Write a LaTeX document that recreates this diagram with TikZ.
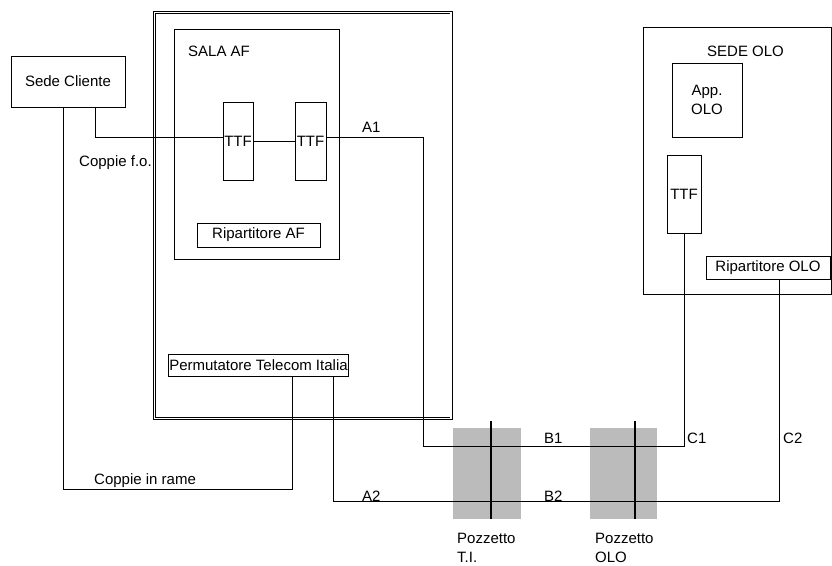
\documentclass[tikz,border=0pt]{standalone}
\usepackage{fontspec}
\setmainfont{Liberation Sans}
\usetikzlibrary{positioning, calc}
\definecolor{pozzgray}{RGB}{187,187,187}
\newcommand{\testo}{\fontsize{15}{19.5}\selectfont}
\tikzset{
    blocco/.style={
        draw, line width=0.7pt, inner sep=1pt, font=\testo
    },
    ttfnode/.style={
        blocco, minimum width=30pt, minimum height=78pt
    },
    ripnode/.style={
        blocco, minimum height=23pt
    },
    cavo/.style={
        line width=0.7pt
    },
    etichetta/.style={
        font=\testo, inner sep=0pt, anchor=base west
    },
    pozzetto/.style={
        fill=pozzgray, minimum width=68pt, minimum height=91pt, inner sep=0pt
    },
    asse/.style={
        line width=1.3pt
    }
}

\begin{document}
\begin{tikzpicture}[x=1pt, y=-1pt]

        \useasboundingbox (0,0) rectangle (832,565);

        % Sede cliente ed edificio AF
        \node[blocco, minimum width=114pt, minimum height=51pt] (cliente) at (68,81.5) {Sede Cliente};
        \node[draw, double, double distance=1.8pt, line width=0.6pt,
              minimum width=296.5pt, minimum height=406pt, inner sep=0pt] (edificio) at (302.75,215.5) {};
        \node[blocco, minimum width=165pt, minimum height=230pt] (sala) at (256.5,144) {};
        \node[etichetta] (salalbl) at (188,56.7) {SALA AF};
        \node[ttfnode] (ttfa) at (238,141) {TTF};
        \node[ttfnode, minimum width=31pt] (ttfb) at (310.5,141) {TTF};
        \node[ripnode, minimum width=123pt, minimum height=24pt] (ripaf) at (258.5,235) {Ripartitore AF};
        \node[blocco, minimum width=177pt, minimum height=22pt] (perm) at (258.5,365) {Permutatore Telecom Italia};

        % Sede OLO
        \node[blocco, minimum width=188.5pt, minimum height=267pt] (sedeolo) at (737.25,160.5) {};
        \node[etichetta] (sedelbl) at (707,56.7) {SEDE OLO};
        \node[blocco, minimum width=70pt, minimum height=74pt, align=center] (appolo) at (707,100) {App.\\OLO};
        \node[ttfnode, minimum width=34pt] (ttfolo) at (684,194) {TTF};
        \node[ripnode, minimum width=124pt] (ripolo) at (768,267.5) {Ripartitore OLO};

        % Pozzetti
        \node[pozzetto] (pozti) at (487,473.5) {};
        \node[pozzetto, minimum width=67pt] (pozolo) at (623.5,473.5) {};
        \node[etichetta, align=left] (poztilbl) at (457,562.7) {Pozzetto\\T.I.};
        \node[etichetta, align=left] (pozololbl) at (595,562.7) {Pozzetto\\OLO};

        % Collegamenti
        \coordinate (bunoa) at (423,446);
        \coordinate (ramea) at (63,489);
        \coordinate (aduea) at (333,501);
        \draw[cavo] ([xshift=27pt]cliente.south) |- ([yshift=4pt]ttfa.west);
        \draw[cavo] (ttfa.east) -- (ttfb.west);
        \draw[cavo] ([yshift=4pt]ttfb.east) -| (bunoa) -| (ttfolo.south);
        \draw[cavo] ([xshift=-5pt]cliente.south) -- (ramea) -| ([xshift=33.5pt]perm.south);
        \draw[cavo] ([xshift=74.5pt]perm.south) -- (aduea) -| ([xshift=11pt]ripolo.south);
        \draw[asse] ([xshift=4pt]pozti.south) -- ([xshift=4pt, yshift=7pt]pozti.north);
        \draw[asse] ([xshift=11.5pt]pozolo.south) -- ([xshift=11.5pt, yshift=7pt]pozolo.north);

        % Etichette delle tratte
        \node[etichetta] (fo) at (79,166) {Coppie f.o.};
        \node[etichetta] (rame) at (94,484.3) {Coppie in rame};
        \node[etichetta] (auno) at (362,132) {A1};
        \node[etichetta] (adue) at (362,501) {A2};
        \node[etichetta] (buno) at (544,443.3) {B1};
        \node[etichetta] (bdue) at (544,501.7) {B2};
        \node[etichetta] (cuno) at (687,443.3) {C1};
        \node[etichetta] (cdue) at (783,443.3) {C2};

    \end{tikzpicture}
\end{document}
